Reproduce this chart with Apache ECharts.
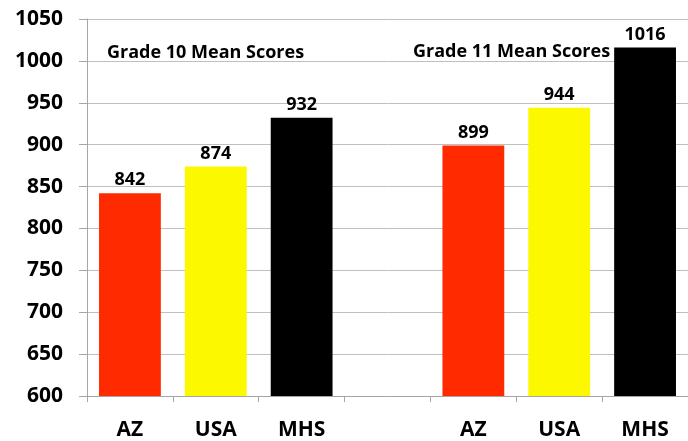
<!DOCTYPE html>
<html>
<head>
<meta charset="utf-8">
<script src="https://cdn.jsdelivr.net/npm/echarts@6/dist/echarts.min.js"></script>
<style>
  html, body { margin: 0; padding: 0; background: #fff; }
  #chart { width: 688px; height: 441px; }
</style>
</head>
<body>
<div id="chart"></div>
<script>
// categories (empty slot separates the two grade groups)
const categories = ['AZ', 'USA', 'MHS', '', 'AZ', 'USA', 'MHS']
const scores = [842, 874, 932, null, 899, 944, 1016]
const barColors = ['#ff2a00', '#fcf800', '#000000', '#ffffff', '#ff2a00', '#fcf800', '#000000']
const groupTitles = ['Grade 10 Mean Scores', 'Grade 11 Mean Scores']

const FONT = '"Open Sans", sans-serif'

const chart = echarts.init(document.getElementById('chart'))

const option = {
  animation: false,
  grid: { left: 87, right: -3, top: 19, bottom: 43 },
  xAxis: {
    type: 'category',
    data: categories,
    axisLine: { lineStyle: { color: '#a6a6a6' } },
    axisTick: { show: true, length: 6, lineStyle: { color: '#a6a6a6' } },
    axisLabel: {
      color: '#000',
      fontFamily: FONT,
      fontWeight: 'bold',
      fontSize: 21,
      margin: 24,
      interval: 0
    }
  },
  yAxis: {
    type: 'value',
    min: 600,
    max: 1050,
    interval: 50,
    axisLine: { show: true, lineStyle: { color: '#a6a6a6' } },
    axisTick: { show: true, length: 8, lineStyle: { color: '#a6a6a6' } },
    splitLine: { lineStyle: { color: '#bfbfbf' } },
    axisLabel: {
      color: '#000',
      fontFamily: FONT,
      fontWeight: 'bold',
      fontSize: 21,
      margin: 24,
      formatter: v => String(v)
    }
  },
  series: [
    {
      type: 'bar',
      barWidth: '72%',
      data: scores.map((v, i) => ({ value: v, itemStyle: { color: barColors[i] } })),
      label: {
        show: true,
        position: 'top',
        distance: 4,
        color: '#000',
        fontFamily: FONT,
        fontWeight: 'bold',
        fontSize: 18
      }
    }
  ],
  graphic: [
    {
      type: 'text',
      left: 107,
      top: 44,
      style: { text: groupTitles[0], fill: '#000', font: 'bold 18px "Open Sans", sans-serif' }
    },
    {
      type: 'text',
      left: 413,
      top: 43,
      style: { text: groupTitles[1], fill: '#000', font: 'bold 18px "Open Sans", sans-serif' }
    }
  ]
}

chart.setOption(option)
</script>
</body>
</html>
